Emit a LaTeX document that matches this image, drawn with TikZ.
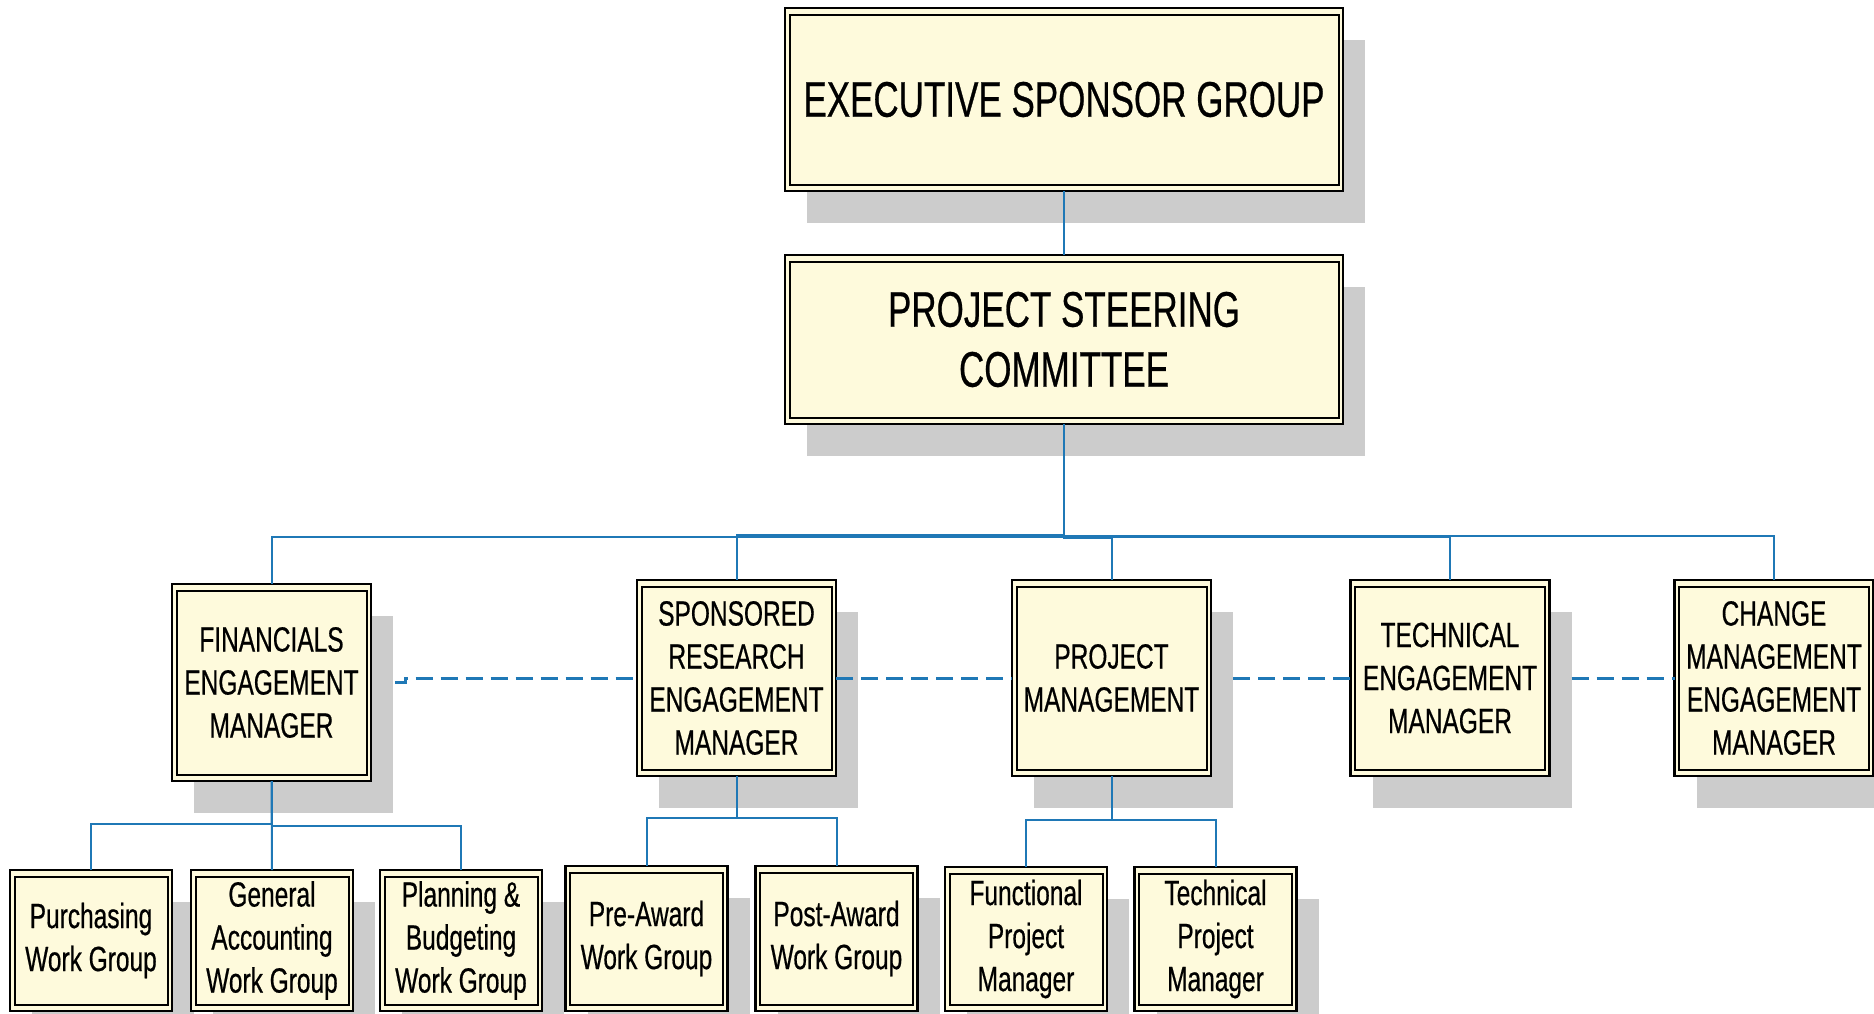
\documentclass[tikz,border=0pt]{standalone}
\usepackage{fontspec}
\setmainfont{Liberation Sans}[FakeStretch=0.7,FakeBold=0.5]
\usetikzlibrary{calc,shadows}
\definecolor{boxfill}{RGB}{254,250,220}
\definecolor{shadowgray}{RGB}{204,204,204}
\definecolor{connblue}{RGB}{31,120,182}
\tikzset{
  orgbox/.style={draw=black, line width=2.9pt, fill=boxfill, rectangle, inner sep=0pt, outer sep=0pt,
    align=center, text=black,
    drop shadow={shadow xshift=22pt, shadow yshift=-32pt, fill=shadowgray, opacity=1},
    path picture={\draw[line width=2pt,black]
      ([shift={(4.5pt,-6.5pt)}]path picture bounding box.north west) rectangle
      ([shift={(-4.5pt,6.5pt)}]path picture bounding box.south east);}},
  bigbox/.style={orgbox, minimum width=558pt, font=\fontsize{50}{60}\selectfont},
  midbox/.style={orgbox, minimum width=199pt, minimum height=196pt, font=\fontsize{35}{43}\selectfont},
  smallbox/.style={orgbox, minimum width=162pt, font=\fontsize{35}{43}\selectfont},
  conn/.style={draw=connblue, line width=2pt},
  dashconn/.style={draw=connblue, line width=3pt, dash pattern=on 17pt off 8pt},
}
\begin{document}
\begin{tikzpicture}[x=1pt,y=-1pt]
\useasboundingbox (0,0) rectangle (1874,1013);
% top
\node[bigbox, minimum height=183pt] (exec) at (1064,99.5) {EXECUTIVE SPONSOR GROUP};
\node[bigbox, minimum height=169pt] (steer) at (1064,339.5) {PROJECT STEERING\\COMMITTEE};
% row 2
\node[midbox, minimum height=197pt] (fin) at (271.5,682.5) {FINANCIALS\\ENGAGEMENT\\MANAGER};
\node[midbox] (spons) at (736.5,678) {SPONSORED\\RESEARCH\\ENGAGEMENT\\MANAGER};
\node[midbox] (pm) at (1111.5,678) {PROJECT\\MANAGEMENT};
\node[midbox] (tech) at (1450,678) {TECHNICAL\\ENGAGEMENT\\MANAGER};
\node[midbox] (change) at (1774,678) {CHANGE\\MANAGEMENT\\ENGAGEMENT\\MANAGER};
% row 3
\node[smallbox, minimum height=141pt] (purch) at (91,940.5) {Purchasing\\Work Group};
\node[smallbox, minimum height=141pt] (ga) at (272,940.5) {General\\Accounting\\Work Group};
\node[smallbox, minimum height=141pt] (plan) at (461,940.5) {Planning \&\\Budgeting\\Work Group};
\node[smallbox, minimum height=145pt] (pre) at (646.5,938.5) {Pre-Award\\Work Group};
\node[smallbox, minimum height=145pt] (post) at (836.5,938.5) {Post-Award\\Work Group};
\node[smallbox, minimum height=144pt] (func) at (1026,939) {Functional\\Project\\Manager};
\node[smallbox, minimum height=144pt] (techpm) at (1215.5,939) {Technical\\Project\\Manager};
% connectors
\draw[conn] (exec.south) -- (steer.north);
\draw[conn] (steer.south) -- ++(0,113) -| (fin.north);
\draw[conn] (steer.south) -- ++(0,111) -| (spons.north);
\draw[conn] (steer.south) -- ++(0,113.5) -| (pm.north);
\draw[conn] (steer.south) -- ++(0,113) -| (tech.north);
\draw[conn] (steer.south) -- ++(0,111.5) -| (change.north);
\draw[conn] (fin.south) -- ++(0,43) -| (purch.north);
\draw[conn] (fin.south) -- (ga.north);
\draw[conn] (fin.south) -- ++(0,45) -| (plan.north);
\draw[conn] (spons.south) -- ++(0,42) -| (pre.north);
\draw[conn] (spons.south) -- ++(0,42) -| (post.north);
\draw[conn] (pm.south) -- ++(0,44) -| (func.north);
\draw[conn] (pm.south) -- ++(0,44) -| (techpm.north);
% dashed links
\draw[dashconn] ($(fin.east)+(24,0)$) -- ++(10,0) -- ++(0,-4.5) -- (spons.west);
\draw[dashconn] (spons.east) -- (pm.west);
\draw[dashconn] ($(pm.east)+(22,0)$) -- (tech.west);
\draw[dashconn] ($(tech.east)+(22,0)$) -- (change.west);
\end{tikzpicture}
\end{document}
